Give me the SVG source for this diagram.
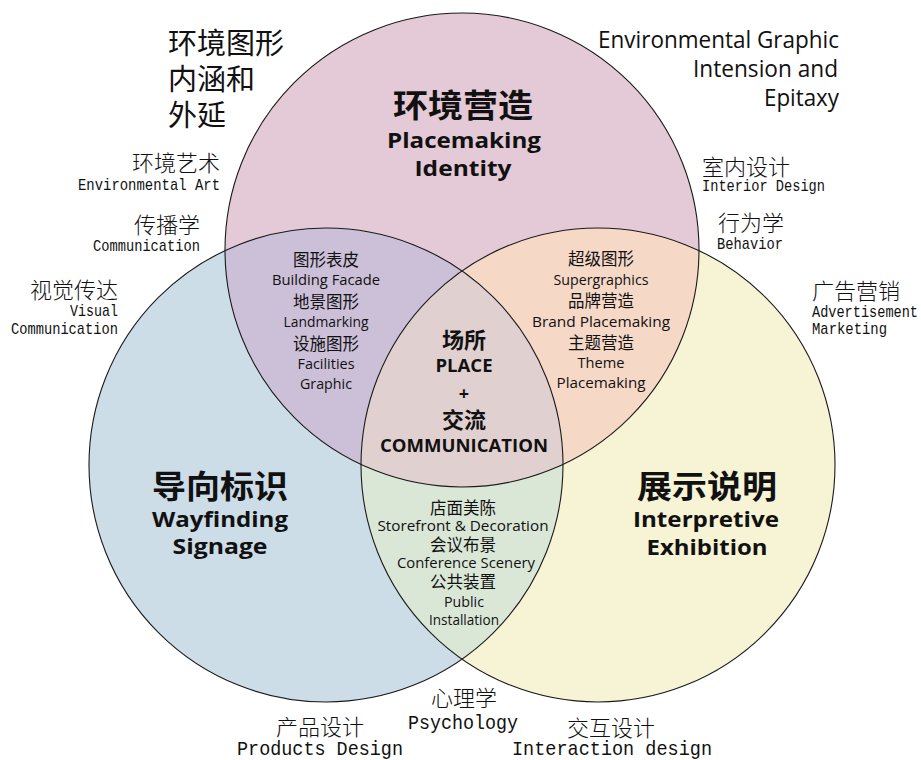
<svg xmlns="http://www.w3.org/2000/svg" width="921" height="760" viewBox="0 0 921 760">
<style>
.bg{fill:#ffffff}
.ring{fill:none;stroke:#1a1a1a;stroke-width:1.1}
.cjkT{font-family:"Noto Sans CJK SC",sans-serif;font-weight:700;font-size:32px;fill:#111;text-anchor:middle}
.enT{font-family:"Open Sans","Noto Sans",sans-serif;font-weight:700;font-size:21px;fill:#111;text-anchor:middle}
.cjkS{font-family:"Noto Sans CJK SC",sans-serif;font-size:16.5px;fill:#111;text-anchor:middle}
.enS{font-family:"Open Sans","Noto Sans",sans-serif;font-size:15px;fill:#111;text-anchor:middle}
.cjkC{font-family:"Noto Sans CJK SC",sans-serif;font-weight:700;font-size:22px;fill:#111;text-anchor:middle}
.enC{font-family:"Open Sans","Noto Sans",sans-serif;font-weight:700;font-size:18px;fill:#111;text-anchor:middle}
.oc{font-family:"Noto Sans CJK SC",sans-serif;font-weight:300;font-size:22px;fill:#111}
.oe{font-family:"Liberation Mono","DejaVu Sans Mono",monospace;font-size:17px;fill:#111}
.oeL{font-family:"Liberation Mono","DejaVu Sans Mono",monospace;font-size:21px;fill:#111}
.end{text-anchor:end}
.mid{text-anchor:middle}
.hd{font-family:"Noto Sans CJK SC",sans-serif;font-size:29px;fill:#111}
.he{font-family:"Open Sans","Noto Sans",sans-serif;font-size:23px;fill:#111;text-anchor:end}
</style>
<defs>
<clipPath id="cpTop"><circle cx="462" cy="250" r="237"/></clipPath>
<clipPath id="cpLeft"><circle cx="326" cy="465" r="237"/></clipPath>
<clipPath id="cpRight"><circle cx="598" cy="465" r="237"/></clipPath>
</defs>
<rect class="bg" x="0" y="0" width="921" height="760"/>

<g id="circle-fills">
<circle cx="462" cy="250" r="237" fill="#E4C9D6"/>
<circle cx="326" cy="465" r="237" fill="#CCDDE7"/>
<circle cx="598" cy="465" r="237" fill="#F7F3D5"/>
<circle cx="326" cy="465" r="237" fill="#CCBFD8" clip-path="url(#cpTop)"/>
<circle cx="598" cy="465" r="237" fill="#F6D8C7" clip-path="url(#cpTop)"/>
<circle cx="598" cy="465" r="237" fill="#DAE7D7" clip-path="url(#cpLeft)"/>
<g clip-path="url(#cpLeft)"><circle cx="462" cy="250" r="237" fill="#E1D0D0" clip-path="url(#cpRight)"/></g>
</g>
<g id="circle-outlines">
<circle class="ring" cx="462" cy="250" r="237"/>
<circle class="ring" cx="326" cy="465" r="237"/>
<circle class="ring" cx="598" cy="465" r="237"/>
</g>

<g id="node-placemaking">
<text class="cjkT" x="463" y="117" textLength="140" lengthAdjust="spacingAndGlyphs">环境营造</text>
<text class="enT" x="464" y="148" textLength="154" lengthAdjust="spacingAndGlyphs">Placemaking</text>
<text class="enT" x="463" y="176" textLength="97" lengthAdjust="spacingAndGlyphs">Identity</text>
</g>
<g id="node-wayfinding">
<text class="cjkT" x="220" y="498" textLength="136" lengthAdjust="spacingAndGlyphs">导向标识</text>
<text class="enT" x="220" y="527" textLength="136" lengthAdjust="spacingAndGlyphs">Wayfinding</text>
<text class="enT" x="220" y="554" textLength="95" lengthAdjust="spacingAndGlyphs">Signage</text>
</g>
<g id="node-exhibition">
<text class="cjkT" x="707" y="498" textLength="140" lengthAdjust="spacingAndGlyphs">展示说明</text>
<text class="enT" x="706" y="527" textLength="146" lengthAdjust="spacingAndGlyphs">Interpretive</text>
<text class="enT" x="707" y="555" textLength="121" lengthAdjust="spacingAndGlyphs">Exhibition</text>
</g>

<g id="node-top-left">
<text class="cjkS" x="326" y="266">图形表皮</text>
<text class="enS" x="326" y="285" textLength="108" lengthAdjust="spacingAndGlyphs">Building  Facade</text>
<text class="cjkS" x="326" y="308">地景图形</text>
<text class="enS" x="326" y="327" textLength="85" lengthAdjust="spacingAndGlyphs">Landmarking</text>
<text class="cjkS" x="326" y="350">设施图形</text>
<text class="enS" x="326" y="369" textLength="57" lengthAdjust="spacingAndGlyphs">Facilities</text>
<text class="enS" x="326" y="389" textLength="52" lengthAdjust="spacingAndGlyphs">Graphic</text>
</g>
<g id="node-top-right">
<text class="cjkS" x="601" y="265">超级图形</text>
<text class="enS" x="601" y="285" textLength="95" lengthAdjust="spacingAndGlyphs">Supergraphics</text>
<text class="cjkS" x="601" y="307">品牌营造</text>
<text class="enS" x="601" y="327" textLength="138" lengthAdjust="spacingAndGlyphs">Brand  Placemaking</text>
<text class="cjkS" x="601" y="349">主题营造</text>
<text class="enS" x="601" y="368" textLength="47" lengthAdjust="spacingAndGlyphs">Theme</text>
<text class="enS" x="601" y="388" textLength="89" lengthAdjust="spacingAndGlyphs">Placemaking</text>
</g>
<g id="node-center">
<text class="cjkC" x="464" y="348">场所</text>
<text class="enC" x="464" y="372" textLength="57" lengthAdjust="spacingAndGlyphs">PLACE</text>
<text class="enC" x="464" y="400">+</text>
<text class="cjkC" x="464" y="428">交流</text>
<text class="enC" x="464" y="452" textLength="168" lengthAdjust="spacingAndGlyphs">COMMUNICATION</text>
</g>
<g id="node-bottom">
<text class="cjkS" x="463" y="514">店面美陈</text>
<text class="enS" x="463" y="531" textLength="171" lengthAdjust="spacingAndGlyphs">Storefront &amp; Decoration</text>
<text class="cjkS" x="463" y="551">会议布景</text>
<text class="enS" x="466" y="568" textLength="138" lengthAdjust="spacingAndGlyphs">Conference Scenery</text>
<text class="cjkS" x="463" y="588">公共装置</text>
<text class="enS" x="464" y="607" textLength="40" lengthAdjust="spacingAndGlyphs">Public</text>
<text class="enS" x="464" y="625" textLength="70" lengthAdjust="spacingAndGlyphs">Installation</text>
</g>

<g id="heading-cn">
<text class="hd" x="168" y="54">环境图形</text>
<text class="hd" x="168" y="90">内涵和</text>
<text class="hd" x="168" y="126">外延</text>
</g>
<g id="heading-en">
<text class="he" x="839" y="48" textLength="241" lengthAdjust="spacingAndGlyphs">Environmental Graphic</text>
<text class="he" x="838" y="77" textLength="145" lengthAdjust="spacingAndGlyphs">Intension and</text>
<text class="he" x="839" y="106" textLength="75" lengthAdjust="spacingAndGlyphs">Epitaxy</text>
</g>

<g id="label-environmental-art">
<text class="oc end" x="220" y="171">环境艺术</text>
<text class="oe end" x="220" y="190" textLength="142" lengthAdjust="spacingAndGlyphs">Environmental Art</text>
</g>
<g id="label-communication">
<text class="oc end" x="200" y="233">传播学</text>
<text class="oe end" x="200" y="251" textLength="107" lengthAdjust="spacingAndGlyphs">Communication</text>
</g>
<g id="label-visual">
<text class="oc end" x="118" y="298">视觉传达</text>
<text class="oe end" x="118" y="316" textLength="48" lengthAdjust="spacingAndGlyphs">Visual</text>
<text class="oe end" x="118" y="334" textLength="107" lengthAdjust="spacingAndGlyphs">Communication</text>
</g>
<g id="label-interior">
<text class="oc" x="702" y="175">室内设计</text>
<text class="oe" x="702" y="191" textLength="123" lengthAdjust="spacingAndGlyphs">Interior Design</text>
</g>
<g id="label-behavior">
<text class="oc" x="718" y="231">行为学</text>
<text class="oe" x="717" y="249" textLength="66" lengthAdjust="spacingAndGlyphs">Behavior</text>
</g>
<g id="label-advertisement">
<text class="oc" x="812" y="299">广告营销</text>
<text class="oe" x="812" y="317" textLength="106" lengthAdjust="spacingAndGlyphs">Advertisement</text>
<text class="oe" x="812" y="334" textLength="75" lengthAdjust="spacingAndGlyphs">Marketing</text>
</g>
<g id="label-psychology">
<text class="oc mid" x="464" y="706">心理学</text>
<text class="oeL mid" x="463" y="729" textLength="110" lengthAdjust="spacingAndGlyphs">Psychology</text>
</g>
<g id="label-products">
<text class="oc mid" x="320" y="735">产品设计</text>
<text class="oeL mid" x="320" y="755" textLength="166" lengthAdjust="spacingAndGlyphs">Products Design</text>
</g>
<g id="label-interaction">
<text class="oc mid" x="611" y="736">交互设计</text>
<text class="oeL mid" x="612" y="755" textLength="200" lengthAdjust="spacingAndGlyphs">Interaction design</text>
</g>
</svg>
